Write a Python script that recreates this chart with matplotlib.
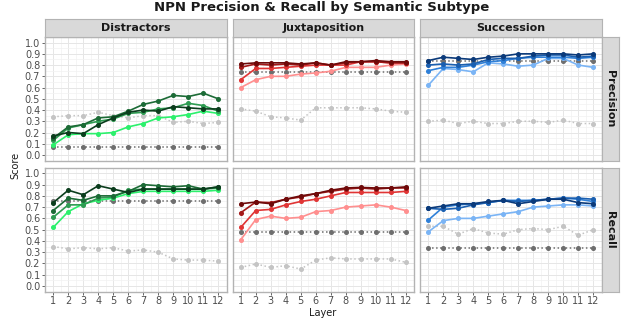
import numpy as np
import matplotlib.pyplot as plt

# layers on the x axis
layers = list(range(1, 13))
subtypes = ['Distractors', 'Juxtaposition', 'Succession']
metrics = ['Precision', 'Recall']

# four model series per panel (dark -> light)
dis_prec = [
    [0.17, 0.20, 0.19, 0.27, 0.33, 0.38, 0.40, 0.39, 0.43, 0.42, 0.41, 0.41],
    [0.15, 0.25, 0.27, 0.33, 0.34, 0.39, 0.45, 0.48, 0.53, 0.52, 0.55, 0.50],
    [0.13, 0.24, 0.27, 0.30, 0.32, 0.37, 0.38, 0.41, 0.42, 0.46, 0.44, 0.39],
    [0.09, 0.18, 0.19, 0.19, 0.20, 0.25, 0.28, 0.33, 0.34, 0.36, 0.39, 0.37],
]
dis_rec = [
    [0.74, 0.85, 0.81, 0.89, 0.86, 0.83, 0.86, 0.86, 0.86, 0.86, 0.86, 0.88],
    [0.67, 0.78, 0.76, 0.80, 0.80, 0.84, 0.90, 0.89, 0.88, 0.89, 0.86, 0.88],
    [0.61, 0.72, 0.72, 0.78, 0.79, 0.85, 0.86, 0.86, 0.86, 0.86, 0.86, 0.87],
    [0.52, 0.66, 0.73, 0.76, 0.78, 0.82, 0.84, 0.84, 0.84, 0.84, 0.84, 0.85],
]
jux_prec = [
    [0.81, 0.82, 0.82, 0.82, 0.81, 0.82, 0.80, 0.83, 0.83, 0.84, 0.83, 0.83],
    [0.78, 0.81, 0.80, 0.81, 0.80, 0.82, 0.80, 0.82, 0.83, 0.83, 0.82, 0.82],
    [0.67, 0.77, 0.77, 0.78, 0.79, 0.80, 0.80, 0.80, 0.83, 0.83, 0.82, 0.82],
    [0.60, 0.67, 0.70, 0.70, 0.72, 0.73, 0.745, 0.78, 0.78, 0.78, 0.80, 0.81],
]
jux_rec = [
    [0.73, 0.745, 0.73, 0.77, 0.80, 0.82, 0.85, 0.87, 0.875, 0.87, 0.87, 0.88],
    [0.65, 0.745, 0.74, 0.77, 0.79, 0.82, 0.84, 0.86, 0.87, 0.86, 0.87, 0.87],
    [0.52, 0.67, 0.68, 0.72, 0.75, 0.77, 0.80, 0.83, 0.83, 0.83, 0.83, 0.84],
    [0.41, 0.59, 0.62, 0.60, 0.61, 0.66, 0.67, 0.70, 0.71, 0.72, 0.70, 0.67],
]
suc_prec = [
    [0.84, 0.87, 0.86, 0.85, 0.87, 0.88, 0.90, 0.90, 0.90, 0.90, 0.89, 0.90],
    [0.80, 0.81, 0.80, 0.81, 0.85, 0.86, 0.86, 0.88, 0.89, 0.89, 0.87, 0.88],
    [0.75, 0.78, 0.78, 0.80, 0.83, 0.84, 0.86, 0.87, 0.87, 0.87, 0.86, 0.87],
    [0.62, 0.77, 0.76, 0.74, 0.82, 0.81, 0.79, 0.80, 0.86, 0.86, 0.80, 0.78],
]
suc_rec = [
    [0.69, 0.71, 0.73, 0.73, 0.75, 0.76, 0.73, 0.75, 0.77, 0.77, 0.74, 0.73],
    [0.69, 0.68, 0.69, 0.72, 0.74, 0.76, 0.75, 0.76, 0.77, 0.78, 0.78, 0.77],
    [0.585, 0.70, 0.72, 0.73, 0.74, 0.76, 0.76, 0.76, 0.77, 0.78, 0.77, 0.75],
    [0.48, 0.58, 0.60, 0.60, 0.62, 0.64, 0.66, 0.70, 0.71, 0.72, 0.72, 0.71],
]

# baselines: varying light gray and constant dark gray
dis_prec_base = [0.34, 0.35, 0.35, 0.38, 0.35, 0.33, 0.35, 0.35, 0.29, 0.30, 0.28, 0.29]
dis_rec_base = [0.35, 0.33, 0.34, 0.33, 0.34, 0.31, 0.32, 0.30, 0.24, 0.23, 0.23, 0.22]
jux_prec_base = [0.41, 0.39, 0.34, 0.33, 0.31, 0.42, 0.42, 0.42, 0.42, 0.41, 0.39, 0.38]
jux_rec_base = [0.165, 0.195, 0.165, 0.18, 0.15, 0.23, 0.25, 0.24, 0.24, 0.24, 0.24, 0.21]
suc_prec_base = [0.30, 0.31, 0.28, 0.30, 0.28, 0.28, 0.30, 0.30, 0.29, 0.31, 0.28, 0.28]
suc_rec_base = [0.53, 0.53, 0.46, 0.51, 0.47, 0.46, 0.50, 0.51, 0.50, 0.53, 0.45, 0.50]
const_base = [[0.07, 0.74, 0.84], [0.75, 0.48, 0.34]]  # [metric][subtype]

series = [[dis_prec, jux_prec, suc_prec], [dis_rec, jux_rec, suc_rec]]
bases = [[dis_prec_base, jux_prec_base, suc_prec_base],
         [dis_rec_base, jux_rec_base, suc_rec_base]]

palettes = [
    ['#0b3d1d', '#1c6b36', '#2e9c52', '#2cf06c'],
    ['#6e0a0a', '#a31818', '#e03535', '#ff8f8f'],
    ['#0b3a7a', '#1a5fb0', '#2f80d8', '#7ab4f5'],
]

W, H = 640, 336
fig = plt.figure(figsize=(W / 100, H / 100), dpi=100)


def px_axes(x0, y0, x1, y1):
    return fig.add_axes([x0 / W, 1 - y1 / H, (x1 - x0) / W, (y1 - y0) / H])


col_x = [(45, 226.5), (232.5, 414), (420, 601.5)]
row_y = [(37, 160.6), (167.7, 291.6)]
border = '#b3b3b3'
strip_fc = '#d9d9d9'

for r in range(2):
    for c in range(3):
        ax = px_axes(col_x[c][0], row_y[r][0], col_x[c][1], row_y[r][1])
        ax.set_xlim(0.45, 12.55)
        ax.set_ylim(-0.05, 1.05)
        ax.set_xticks(layers)
        ax.set_xticks(np.arange(1.5, 12, 1), minor=True)
        ax.set_yticks(np.arange(0, 1.01, 0.1))
        ax.set_yticks(np.arange(0.05, 1.0, 0.1), minor=True)
        ax.grid(True, which='major', color='#e6e6e6', lw=0.7)
        ax.grid(True, which='minor', color='#f2f2f2', lw=0.5)
        ax.set_axisbelow(True)
        for s in ax.spines.values():
            s.set_color(border)
            s.set_linewidth(1.0)
        ax.tick_params(which='minor', length=0)
        ax.tick_params(which='major', length=2, width=0.6, color='#4d4d4d',
                       labelsize=7, labelcolor='#4d4d4d', pad=1.5)
        ax.set_yticklabels([f'{v:.1f}' for v in np.arange(0, 1.01, 0.1)])
        if c > 0:
            ax.tick_params(axis='y', left=False, labelleft=False)
        if r == 0:
            ax.tick_params(axis='x', bottom=False, labelbottom=False)

        ax.plot(layers, bases[r][c], ls=':', color='#c4c4c4', lw=1.1,
                marker='o', ms=2.6, zorder=2)
        ax.plot(layers, [const_base[r][c]] * 12, ls=':', color='#6e6e6e', lw=1.1,
                marker='o', ms=2.6, zorder=2)
        for k, vals in enumerate(series[r][c]):
            ax.plot(layers, vals, color=palettes[c][k], lw=1.2,
                    marker='o', ms=2.6, zorder=3 + (3 - k))

# column strips
for c in range(3):
    sa = px_axes(col_x[c][0], 19, col_x[c][1], 37)
    sa.set_facecolor(strip_fc)
    sa.set_xticks([])
    sa.set_yticks([])
    for s in sa.spines.values():
        s.set_color(border)
    sa.text(0.5, 0.5, subtypes[c], ha='center', va='center', fontsize=8,
            fontweight='bold', color='#1a1a1a', transform=sa.transAxes)

# row strips
for r in range(2):
    sa = px_axes(601.5, row_y[r][0], 619, row_y[r][1])
    sa.set_facecolor(strip_fc)
    sa.set_xticks([])
    sa.set_yticks([])
    for s in sa.spines.values():
        s.set_color(border)
    sa.text(0.5, 0.5, metrics[r], ha='center', va='center', fontsize=8,
            fontweight='bold', color='#1a1a1a', rotation=-90,
            transform=sa.transAxes)

fig.text(322 / W, 1 - 7 / H, 'NPN Precision & Recall by Semantic Subtype',
         ha='center', va='center', fontsize=9.5, fontweight='bold', color='#1a1a1a')
fig.text(323 / W, 1 - 313 / H, 'Layer', ha='center', va='center',
         fontsize=7, color='#1a1a1a')
fig.text(15 / W, 1 - 165 / H, 'Score', ha='center', va='center',
         fontsize=7, color='#1a1a1a', rotation=90)

fig.savefig('out.png', dpi=100)
